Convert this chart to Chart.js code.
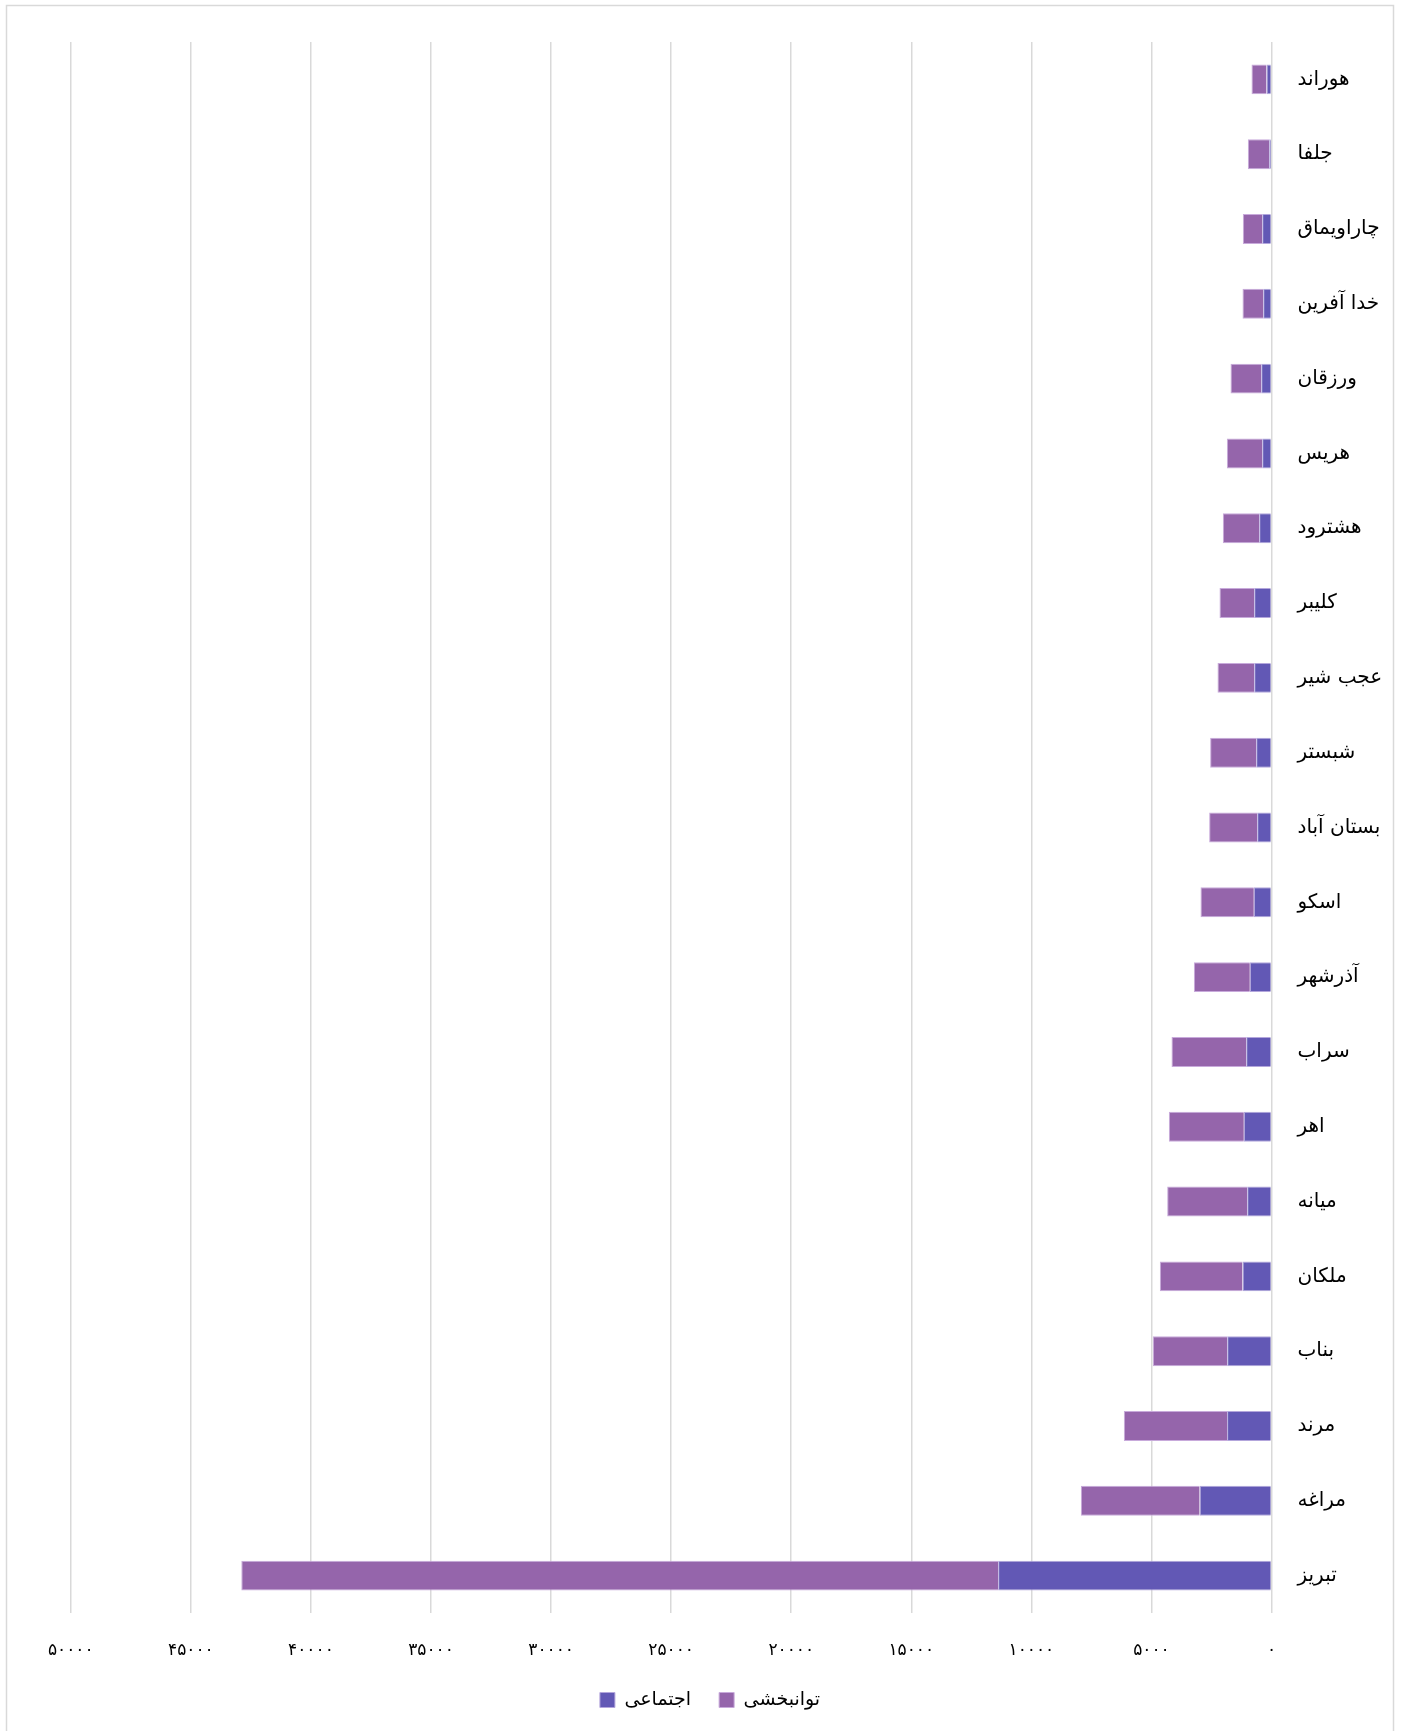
<!DOCTYPE html>
<html>
<head>
<meta charset="utf-8">
<script src="https://cdn.jsdelivr.net/npm/chart.js@4/dist/chart.umd.min.js"></script>
<style>
  html, body { margin: 0; padding: 0; background: #fff; }
  #wrap { width: 1403px; height: 1731px; position: relative; }
</style>
</head>
<body>
<div id="wrap"><canvas id="c" width="1403" height="1731"></canvas></div>
<script>
const categories = ['هوراند','جلفا','چاراویماق','خدا آفرین','ورزقان','هریس','هشترود','کلیبر','عجب شیر','شبستر','بستان آباد','اسکو','آذرشهر','سراب','اهر','میانه','ملکان','بناب','مرند','مراغه','تبریز'];
const ejtemaei = [208, 97, 389, 347, 430, 389, 514, 722, 722, 639, 597, 736, 902, 1055, 1152, 1013, 1208, 1846, 1850, 2993, 11384];
const tavanbakhshi = [625, 888, 805, 861, 1277, 1471, 1513, 1444, 1527, 1916, 1999, 2221, 2332, 3109, 3123, 3331, 3442, 3095, 4300, 4946, 31516];
const seriesNames = ['اجتماعی', 'توانبخشی'];
const xTickLabels = ['۰','۵۰۰۰','۱۰۰۰۰','۱۵۰۰۰','۲۰۰۰۰','۲۵۰۰۰','۳۰۰۰۰','۳۵۰۰۰','۴۰۰۰۰','۴۵۰۰۰','۵۰۰۰۰'];

const FONT = "'DejaVu Sans', sans-serif";

const framePlugin = {
  id: 'frame',
  beforeDraw(chart) {
    const ctx = chart.ctx;
    ctx.save();
    ctx.fillStyle = '#ffffff';
    ctx.fillRect(0, 0, chart.width, chart.height);
    ctx.strokeStyle = '#d9d9d9';
    ctx.lineWidth = 1.5;
    ctx.strokeRect(6.5, 5.5, 1387, 1800);
    ctx.restore();
  }
};

new Chart(document.getElementById('c'), {
  type: 'bar',
  data: {
    labels: categories,
    datasets: [
      {
        label: seriesNames[0],
        data: ejtemaei,
        backgroundColor: '#6258b5',
        borderColor: '#b3a6dc',
        borderWidth: 1,
        categoryPercentage: 1,
        barPercentage: 0.4
      },
      {
        label: seriesNames[1],
        data: tavanbakhshi,
        backgroundColor: '#9565ab',
        borderColor: '#c8aadb',
        borderWidth: 1,
        categoryPercentage: 1,
        barPercentage: 0.4
      }
    ]
  },
  options: {
    indexAxis: 'y',
    responsive: false,
    animation: false,
    devicePixelRatio: 1,
    layout: { padding: { top: 42, left: 27, right: 10, bottom: 11.5 } },
    plugins: {
      legend: {
        position: 'bottom',
        labels: {
          boxWidth: 15,
          boxHeight: 15,
          padding: 28,
          color: '#000',
          font: { family: FONT, size: 19 }
        }
      },
      tooltip: { enabled: false }
    },
    scales: {
      x: {
        type: 'linear',
        reverse: true,
        stacked: true,
        min: 0,
        max: 50000,
        ticks: {
          stepSize: 5000,
          autoSkip: false,
          maxRotation: 0,
          padding: 27,
          color: '#000',
          font: { family: FONT, size: 17 },
          callback: (v) => xTickLabels[Math.round(v / 5000)]
        },
        grid: { color: '#d9d9d9', lineWidth: 1.5, drawTicks: false },
        border: { display: false },
        afterFit(s) { s.height = 49.5; }
      },
      y: {
        type: 'category',
        position: 'right',
        stacked: true,
        grid: { display: false, drawTicks: false },
        border: { display: false },
        ticks: {
          padding: 26,
          color: '#000',
          crossAlign: 'near',
          font: { family: FONT, size: 20 }
        },
        afterFit(s) { s.width = 121.5; }
      },
      yLeft: {
        axis: 'y',
        type: 'category',
        position: 'left',
        display: true,
        grid: { display: false, drawTicks: false },
        border: { display: false },
        ticks: { display: false },
        afterFit(s) { s.width = 43.8; }
      }
    }
  },
  plugins: [framePlugin]
});
</script>
</body>
</html>
